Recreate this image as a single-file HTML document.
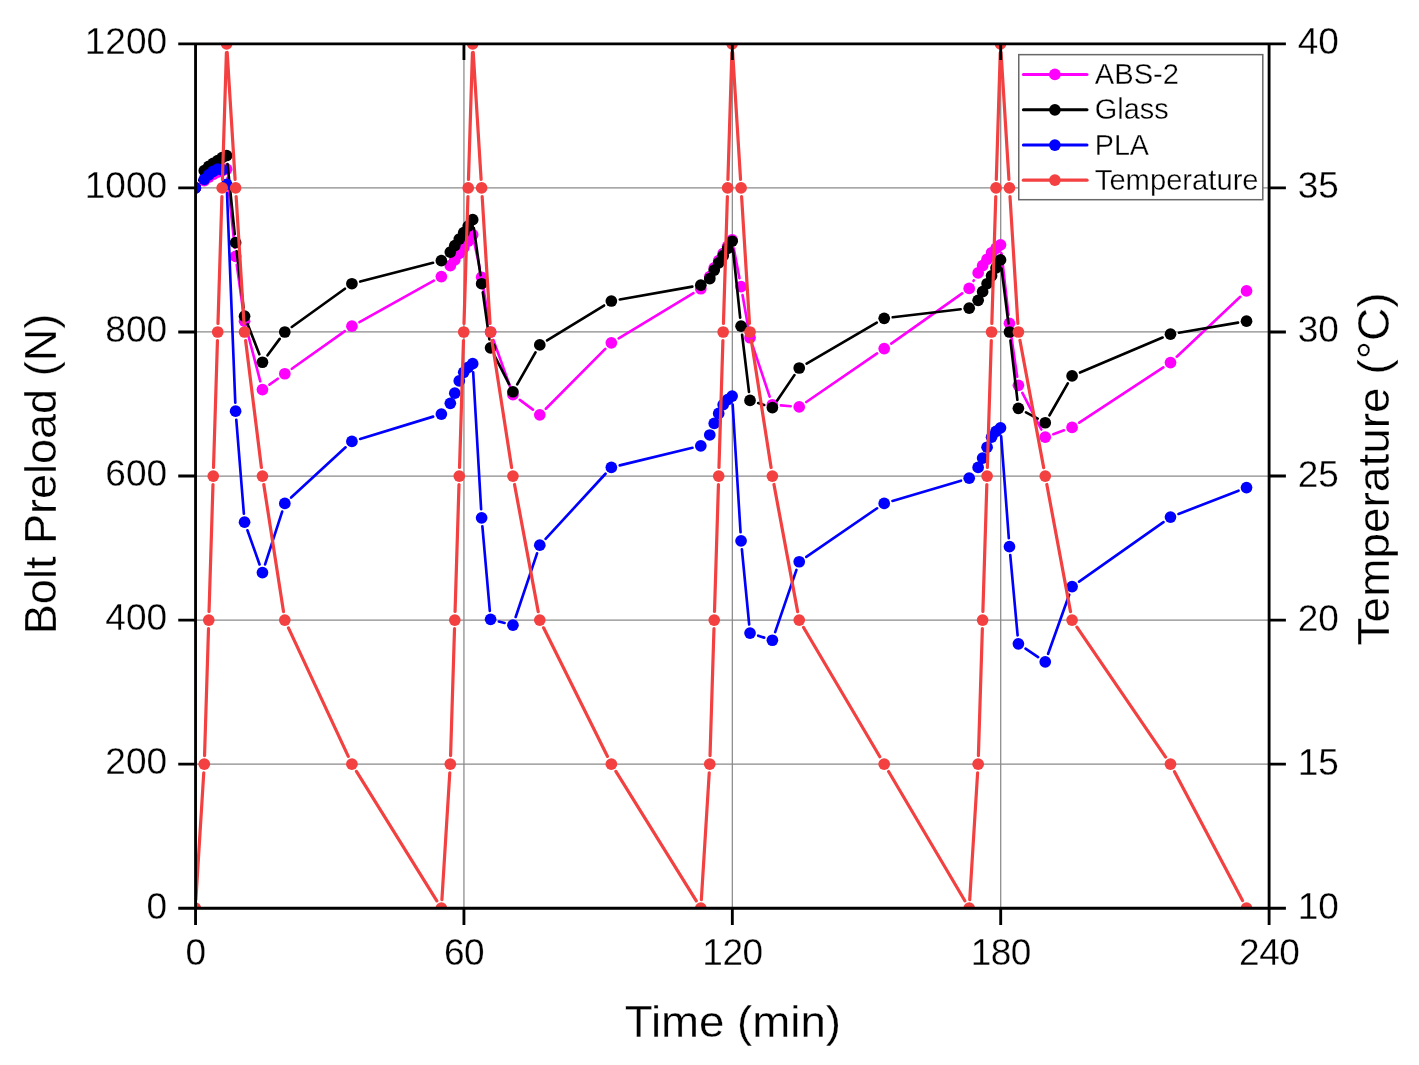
<!DOCTYPE html>
<html><head><meta charset="utf-8"><title>Bolt Preload vs Time</title>
<style>html,body{margin:0;padding:0;background:#fff}svg{display:block}</style></head>
<body>
<svg width="1419" height="1065" viewBox="0 0 1419 1065" font-family="'Liberation Sans', sans-serif" fill="#000">
<style>text{stroke:#fff;stroke-width:0.3px}</style>
<rect width="1419" height="1065" fill="#fff"/>
<defs><clipPath id="c"><rect x="195.55" y="43.88" width="1073.55" height="864.32"/></clipPath></defs>
<path d="M195.55 764.15H1269.10M195.55 620.09H1269.10M195.55 476.04H1269.10M195.55 331.99H1269.10M195.55 187.93H1269.10M463.94 43.88V908.20M732.33 43.88V908.20M1000.71 43.88V908.20" stroke="#8a8a8a" stroke-width="1.25" fill="none"/>
<g clip-path="url(#c)">
<path d="M227.54 177.76L234.73 247.80M236.78 264.88L243.38 312.66M246.73 329.50L260.27 381.29M269.46 384.64L277.80 378.73M291.83 368.79L344.89 331.20M359.43 322.05L433.85 280.70M474.46 243.17L479.86 268.83M483.02 285.73L489.19 323.50M493.47 340.09L510.05 386.55M519.82 399.82L532.91 409.65M545.84 408.72L605.29 348.89M618.71 338.35L693.45 293.22M733.74 248.24L739.46 278.16M742.55 295.08L748.54 329.28M752.74 345.91L769.66 396.58M780.96 405.42L790.65 406.20M806.31 402.03L877.12 353.42M891.23 343.59L962.18 293.38M973.50 280.96L973.84 280.37M1001.49 253.38L1008.49 314.80M1010.69 331.86L1017.18 376.77M1022.36 392.92L1041.29 429.51M1053.33 434.22L1064.00 430.35M1079.26 422.69L1163.31 367.33M1176.75 356.70L1240.28 296.83" fill="none" stroke="#ff00ff" stroke-width="2.65" stroke-linecap="round"/>
<circle cx="195.35" cy="187.93" r="5.85" fill="#ff00ff"/>
<circle cx="204.30" cy="180.73" r="5.85" fill="#ff00ff"/>
<circle cx="208.77" cy="177.13" r="5.85" fill="#ff00ff"/>
<circle cx="213.24" cy="174.25" r="5.85" fill="#ff00ff"/>
<circle cx="217.72" cy="172.09" r="5.85" fill="#ff00ff"/>
<circle cx="222.19" cy="170.65" r="5.85" fill="#ff00ff"/>
<circle cx="226.66" cy="169.21" r="5.85" fill="#ff00ff"/>
<circle cx="235.61" cy="256.36" r="5.85" fill="#ff00ff"/>
<circle cx="244.55" cy="321.18" r="5.85" fill="#ff00ff"/>
<circle cx="262.45" cy="389.61" r="5.85" fill="#ff00ff"/>
<circle cx="284.81" cy="373.76" r="5.85" fill="#ff00ff"/>
<circle cx="351.91" cy="326.22" r="5.85" fill="#ff00ff"/>
<circle cx="441.37" cy="276.53" r="5.85" fill="#ff00ff"/>
<circle cx="450.32" cy="265.72" r="5.85" fill="#ff00ff"/>
<circle cx="454.79" cy="259.96" r="5.85" fill="#ff00ff"/>
<circle cx="459.26" cy="253.48" r="5.85" fill="#ff00ff"/>
<circle cx="463.74" cy="247.72" r="5.85" fill="#ff00ff"/>
<circle cx="468.21" cy="241.23" r="5.85" fill="#ff00ff"/>
<circle cx="472.68" cy="234.75" r="5.85" fill="#ff00ff"/>
<circle cx="481.63" cy="277.25" r="5.85" fill="#ff00ff"/>
<circle cx="490.58" cy="331.99" r="5.85" fill="#ff00ff"/>
<circle cx="512.94" cy="394.65" r="5.85" fill="#ff00ff"/>
<circle cx="539.78" cy="414.82" r="5.85" fill="#ff00ff"/>
<circle cx="611.35" cy="342.79" r="5.85" fill="#ff00ff"/>
<circle cx="700.81" cy="288.77" r="5.85" fill="#ff00ff"/>
<circle cx="709.76" cy="276.53" r="5.85" fill="#ff00ff"/>
<circle cx="714.23" cy="267.88" r="5.85" fill="#ff00ff"/>
<circle cx="718.71" cy="260.68" r="5.85" fill="#ff00ff"/>
<circle cx="723.18" cy="253.48" r="5.85" fill="#ff00ff"/>
<circle cx="727.65" cy="246.27" r="5.85" fill="#ff00ff"/>
<circle cx="732.12" cy="239.79" r="5.85" fill="#ff00ff"/>
<circle cx="741.07" cy="286.61" r="5.85" fill="#ff00ff"/>
<circle cx="750.02" cy="337.75" r="5.85" fill="#ff00ff"/>
<circle cx="772.38" cy="404.73" r="5.85" fill="#ff00ff"/>
<circle cx="799.22" cy="406.89" r="5.85" fill="#ff00ff"/>
<circle cx="884.21" cy="348.55" r="5.85" fill="#ff00ff"/>
<circle cx="969.20" cy="288.41" r="5.85" fill="#ff00ff"/>
<circle cx="978.15" cy="272.92" r="5.85" fill="#ff00ff"/>
<circle cx="982.62" cy="265.72" r="5.85" fill="#ff00ff"/>
<circle cx="987.09" cy="259.24" r="5.85" fill="#ff00ff"/>
<circle cx="991.57" cy="252.76" r="5.85" fill="#ff00ff"/>
<circle cx="996.04" cy="248.44" r="5.85" fill="#ff00ff"/>
<circle cx="1000.51" cy="244.83" r="5.85" fill="#ff00ff"/>
<circle cx="1009.46" cy="323.34" r="5.85" fill="#ff00ff"/>
<circle cx="1018.40" cy="385.29" r="5.85" fill="#ff00ff"/>
<circle cx="1045.24" cy="437.15" r="5.85" fill="#ff00ff"/>
<circle cx="1072.08" cy="427.42" r="5.85" fill="#ff00ff"/>
<circle cx="1170.49" cy="362.60" r="5.85" fill="#ff00ff"/>
<circle cx="1246.53" cy="290.93" r="5.85" fill="#ff00ff"/>
<path d="M199.30 180.30L200.34 178.28M227.54 164.08L234.73 234.12M236.65 251.21L243.51 307.60M247.67 324.16L259.33 354.22M267.56 355.32L279.70 338.90M291.79 326.97L344.93 288.75M360.24 281.58L433.04 262.83M473.87 228.14L480.44 275.21M482.82 292.25L489.39 339.32M494.48 355.50L509.04 384.10M517.22 384.31L535.50 352.41M547.11 340.45L604.02 305.51M619.82 299.52L692.34 286.67M733.03 249.79L740.17 317.67M742.10 334.76L748.99 391.87M758.20 403.05L764.20 404.98M777.21 400.49L794.40 375.12M806.65 363.66L876.79 322.64M892.75 317.29L960.66 309.23M1001.57 268.49L1008.40 323.45M1010.46 340.53L1017.40 399.79M1025.98 412.40L1037.67 418.67M1049.52 415.28L1067.81 383.38M1080.00 372.56L1162.58 337.51M1178.97 332.70L1238.06 322.63" fill="none" stroke="#000000" stroke-width="2.65" stroke-linecap="round"/>
<circle cx="195.35" cy="187.93" r="5.85" fill="#000000"/>
<circle cx="204.30" cy="170.65" r="5.85" fill="#000000"/>
<circle cx="208.77" cy="166.33" r="5.85" fill="#000000"/>
<circle cx="213.24" cy="163.44" r="5.85" fill="#000000"/>
<circle cx="217.72" cy="160.56" r="5.85" fill="#000000"/>
<circle cx="222.19" cy="157.68" r="5.85" fill="#000000"/>
<circle cx="226.66" cy="155.52" r="5.85" fill="#000000"/>
<circle cx="235.61" cy="242.67" r="5.85" fill="#000000"/>
<circle cx="244.55" cy="316.14" r="5.85" fill="#000000"/>
<circle cx="262.45" cy="362.24" r="5.85" fill="#000000"/>
<circle cx="284.81" cy="331.99" r="5.85" fill="#000000"/>
<circle cx="351.91" cy="283.73" r="5.85" fill="#000000"/>
<circle cx="441.37" cy="260.68" r="5.85" fill="#000000"/>
<circle cx="450.32" cy="252.04" r="5.85" fill="#000000"/>
<circle cx="454.79" cy="245.55" r="5.85" fill="#000000"/>
<circle cx="459.26" cy="239.07" r="5.85" fill="#000000"/>
<circle cx="463.74" cy="232.59" r="5.85" fill="#000000"/>
<circle cx="468.21" cy="226.11" r="5.85" fill="#000000"/>
<circle cx="472.68" cy="219.63" r="5.85" fill="#000000"/>
<circle cx="481.63" cy="283.73" r="5.85" fill="#000000"/>
<circle cx="490.58" cy="347.83" r="5.85" fill="#000000"/>
<circle cx="512.94" cy="391.77" r="5.85" fill="#000000"/>
<circle cx="539.78" cy="344.95" r="5.85" fill="#000000"/>
<circle cx="611.35" cy="301.02" r="5.85" fill="#000000"/>
<circle cx="700.81" cy="285.17" r="5.85" fill="#000000"/>
<circle cx="709.76" cy="278.69" r="5.85" fill="#000000"/>
<circle cx="714.23" cy="270.04" r="5.85" fill="#000000"/>
<circle cx="718.71" cy="262.84" r="5.85" fill="#000000"/>
<circle cx="723.18" cy="255.64" r="5.85" fill="#000000"/>
<circle cx="727.65" cy="248.44" r="5.85" fill="#000000"/>
<circle cx="732.12" cy="241.23" r="5.85" fill="#000000"/>
<circle cx="741.07" cy="326.22" r="5.85" fill="#000000"/>
<circle cx="750.02" cy="400.41" r="5.85" fill="#000000"/>
<circle cx="772.38" cy="407.61" r="5.85" fill="#000000"/>
<circle cx="799.22" cy="368.00" r="5.85" fill="#000000"/>
<circle cx="884.21" cy="318.30" r="5.85" fill="#000000"/>
<circle cx="969.20" cy="308.22" r="5.85" fill="#000000"/>
<circle cx="978.15" cy="300.29" r="5.85" fill="#000000"/>
<circle cx="982.62" cy="291.65" r="5.85" fill="#000000"/>
<circle cx="987.09" cy="283.73" r="5.85" fill="#000000"/>
<circle cx="991.57" cy="275.81" r="5.85" fill="#000000"/>
<circle cx="996.04" cy="267.88" r="5.85" fill="#000000"/>
<circle cx="1000.51" cy="259.96" r="5.85" fill="#000000"/>
<circle cx="1009.46" cy="331.99" r="5.85" fill="#000000"/>
<circle cx="1018.40" cy="408.33" r="5.85" fill="#000000"/>
<circle cx="1045.24" cy="422.74" r="5.85" fill="#000000"/>
<circle cx="1072.08" cy="375.92" r="5.85" fill="#000000"/>
<circle cx="1170.49" cy="334.15" r="5.85" fill="#000000"/>
<circle cx="1246.53" cy="321.18" r="5.85" fill="#000000"/>
<path d="M227.00 192.93L235.27 402.62M236.30 419.79L243.86 513.56M247.43 530.24L259.57 564.45M265.09 564.37L282.17 511.59M291.13 497.58L345.59 447.30M360.13 438.95L433.15 416.61M473.18 372.26L481.13 509.23M482.38 526.38L489.82 610.81M498.90 621.52L504.61 622.99M515.68 616.98L537.04 553.34M545.60 538.86L605.53 473.73M619.71 465.38L692.45 447.81M732.66 404.67L740.54 532.28M741.90 549.42L749.19 624.50M758.20 635.69L764.20 637.62M775.17 632.12L796.44 569.89M806.31 556.88L877.12 508.28M892.46 500.96L960.96 480.65M1001.16 436.36L1008.81 538.05M1010.25 555.19L1017.62 635.30M1025.55 648.65L1038.10 657.08M1048.13 653.77L1069.19 594.70M1079.11 581.64L1163.47 522.06M1178.51 513.98L1238.52 490.68" fill="none" stroke="#0000ff" stroke-width="2.65" stroke-linecap="round"/>
<circle cx="195.35" cy="187.93" r="5.85" fill="#0000ff"/>
<circle cx="204.30" cy="179.29" r="5.85" fill="#0000ff"/>
<circle cx="208.77" cy="174.97" r="5.85" fill="#0000ff"/>
<circle cx="213.24" cy="171.37" r="5.85" fill="#0000ff"/>
<circle cx="217.72" cy="169.21" r="5.85" fill="#0000ff"/>
<circle cx="222.19" cy="169.93" r="5.85" fill="#0000ff"/>
<circle cx="226.66" cy="184.33" r="5.85" fill="#0000ff"/>
<circle cx="235.61" cy="411.22" r="5.85" fill="#0000ff"/>
<circle cx="244.55" cy="522.14" r="5.85" fill="#0000ff"/>
<circle cx="262.45" cy="572.56" r="5.85" fill="#0000ff"/>
<circle cx="284.81" cy="503.41" r="5.85" fill="#0000ff"/>
<circle cx="351.91" cy="441.47" r="5.85" fill="#0000ff"/>
<circle cx="441.37" cy="414.10" r="5.85" fill="#0000ff"/>
<circle cx="450.32" cy="403.29" r="5.85" fill="#0000ff"/>
<circle cx="454.79" cy="393.21" r="5.85" fill="#0000ff"/>
<circle cx="459.26" cy="380.96" r="5.85" fill="#0000ff"/>
<circle cx="463.74" cy="372.32" r="5.85" fill="#0000ff"/>
<circle cx="468.21" cy="367.28" r="5.85" fill="#0000ff"/>
<circle cx="472.68" cy="363.68" r="5.85" fill="#0000ff"/>
<circle cx="481.63" cy="517.82" r="5.85" fill="#0000ff"/>
<circle cx="490.58" cy="619.37" r="5.85" fill="#0000ff"/>
<circle cx="512.94" cy="625.14" r="5.85" fill="#0000ff"/>
<circle cx="539.78" cy="545.19" r="5.85" fill="#0000ff"/>
<circle cx="611.35" cy="467.40" r="5.85" fill="#0000ff"/>
<circle cx="700.81" cy="445.79" r="5.85" fill="#0000ff"/>
<circle cx="709.76" cy="434.98" r="5.85" fill="#0000ff"/>
<circle cx="714.23" cy="423.46" r="5.85" fill="#0000ff"/>
<circle cx="718.71" cy="413.38" r="5.85" fill="#0000ff"/>
<circle cx="723.18" cy="404.73" r="5.85" fill="#0000ff"/>
<circle cx="727.65" cy="399.69" r="5.85" fill="#0000ff"/>
<circle cx="732.12" cy="396.09" r="5.85" fill="#0000ff"/>
<circle cx="741.07" cy="540.86" r="5.85" fill="#0000ff"/>
<circle cx="750.02" cy="633.06" r="5.85" fill="#0000ff"/>
<circle cx="772.38" cy="640.26" r="5.85" fill="#0000ff"/>
<circle cx="799.22" cy="561.75" r="5.85" fill="#0000ff"/>
<circle cx="884.21" cy="503.41" r="5.85" fill="#0000ff"/>
<circle cx="969.20" cy="478.20" r="5.85" fill="#0000ff"/>
<circle cx="978.15" cy="467.40" r="5.85" fill="#0000ff"/>
<circle cx="982.62" cy="458.03" r="5.85" fill="#0000ff"/>
<circle cx="987.09" cy="447.23" r="5.85" fill="#0000ff"/>
<circle cx="991.57" cy="437.15" r="5.85" fill="#0000ff"/>
<circle cx="996.04" cy="431.38" r="5.85" fill="#0000ff"/>
<circle cx="1000.51" cy="427.78" r="5.85" fill="#0000ff"/>
<circle cx="1009.46" cy="546.63" r="5.85" fill="#0000ff"/>
<circle cx="1018.40" cy="643.86" r="5.85" fill="#0000ff"/>
<circle cx="1045.24" cy="661.87" r="5.85" fill="#0000ff"/>
<circle cx="1072.08" cy="586.60" r="5.85" fill="#0000ff"/>
<circle cx="1170.49" cy="517.10" r="5.85" fill="#0000ff"/>
<circle cx="1246.53" cy="487.56" r="5.85" fill="#0000ff"/>
<path d="M195.88 899.62L203.76 772.73M204.56 755.55L208.50 628.69M209.04 611.50L212.98 484.64M213.51 467.44L217.45 340.58M217.98 323.39L221.92 196.53M222.46 179.34L226.39 52.48M227.19 52.46L235.08 179.35M236.14 196.52L244.02 323.40M245.61 340.52L261.39 467.51M263.77 484.54L283.49 611.60M288.44 627.89L348.28 756.35M356.45 771.45L436.83 900.89M441.90 899.62L449.79 772.73M450.59 755.55L454.52 628.69M455.06 611.50L459.00 484.64M459.53 467.44L463.47 340.58M464.00 323.39L467.94 196.53M468.48 179.34L472.42 52.48M473.22 52.46L481.10 179.35M482.16 196.52L490.04 323.40M491.90 340.48L511.62 467.54M514.52 484.49L538.21 611.64M543.61 627.80L607.52 756.44M615.89 771.45L696.28 900.89M701.35 899.62L709.23 772.73M710.03 755.55L713.97 628.69M714.50 611.50L718.44 484.64M718.97 467.44L722.91 340.58M723.45 323.39L727.38 196.53M727.92 179.34L731.86 52.48M732.66 52.46L740.54 179.35M741.60 196.52L749.48 323.40M751.34 340.48L771.06 467.54M773.96 484.49L797.65 611.64M803.59 627.50L879.84 756.74M888.58 771.55L964.83 900.79M969.73 899.62L977.61 772.73M978.41 755.55L982.35 628.69M982.89 611.50L986.83 484.64M987.36 467.44L991.30 340.58M991.83 323.39L995.77 196.53M996.31 179.34L1000.25 52.48M1001.05 52.46L1008.93 179.35M1009.99 196.52L1017.87 323.40M1019.98 340.44L1043.67 467.59M1046.82 484.49L1070.51 611.64M1076.93 627.19L1165.64 757.05M1174.51 771.75L1242.52 900.59" fill="none" stroke="#f34040" stroke-width="3.2" stroke-linecap="round"/>
<circle cx="195.35" cy="908.20" r="5.85" fill="#f34040"/>
<circle cx="204.30" cy="764.15" r="5.85" fill="#f34040"/>
<circle cx="208.77" cy="620.09" r="5.85" fill="#f34040"/>
<circle cx="213.24" cy="476.04" r="5.85" fill="#f34040"/>
<circle cx="217.72" cy="331.99" r="5.85" fill="#f34040"/>
<circle cx="222.19" cy="187.93" r="5.85" fill="#f34040"/>
<circle cx="226.66" cy="43.88" r="5.85" fill="#f34040"/>
<circle cx="235.61" cy="187.93" r="5.85" fill="#f34040"/>
<circle cx="244.55" cy="331.99" r="5.85" fill="#f34040"/>
<circle cx="262.45" cy="476.04" r="5.85" fill="#f34040"/>
<circle cx="284.81" cy="620.09" r="5.85" fill="#f34040"/>
<circle cx="351.91" cy="764.15" r="5.85" fill="#f34040"/>
<circle cx="441.37" cy="908.20" r="5.85" fill="#f34040"/>
<circle cx="450.32" cy="764.15" r="5.85" fill="#f34040"/>
<circle cx="454.79" cy="620.09" r="5.85" fill="#f34040"/>
<circle cx="459.26" cy="476.04" r="5.85" fill="#f34040"/>
<circle cx="463.74" cy="331.99" r="5.85" fill="#f34040"/>
<circle cx="468.21" cy="187.93" r="5.85" fill="#f34040"/>
<circle cx="472.68" cy="43.88" r="5.85" fill="#f34040"/>
<circle cx="481.63" cy="187.93" r="5.85" fill="#f34040"/>
<circle cx="490.58" cy="331.99" r="5.85" fill="#f34040"/>
<circle cx="512.94" cy="476.04" r="5.85" fill="#f34040"/>
<circle cx="539.78" cy="620.09" r="5.85" fill="#f34040"/>
<circle cx="611.35" cy="764.15" r="5.85" fill="#f34040"/>
<circle cx="700.81" cy="908.20" r="5.85" fill="#f34040"/>
<circle cx="709.76" cy="764.15" r="5.85" fill="#f34040"/>
<circle cx="714.23" cy="620.09" r="5.85" fill="#f34040"/>
<circle cx="718.71" cy="476.04" r="5.85" fill="#f34040"/>
<circle cx="723.18" cy="331.99" r="5.85" fill="#f34040"/>
<circle cx="727.65" cy="187.93" r="5.85" fill="#f34040"/>
<circle cx="732.12" cy="43.88" r="5.85" fill="#f34040"/>
<circle cx="741.07" cy="187.93" r="5.85" fill="#f34040"/>
<circle cx="750.02" cy="331.99" r="5.85" fill="#f34040"/>
<circle cx="772.38" cy="476.04" r="5.85" fill="#f34040"/>
<circle cx="799.22" cy="620.09" r="5.85" fill="#f34040"/>
<circle cx="884.21" cy="764.15" r="5.85" fill="#f34040"/>
<circle cx="969.20" cy="908.20" r="5.85" fill="#f34040"/>
<circle cx="978.15" cy="764.15" r="5.85" fill="#f34040"/>
<circle cx="982.62" cy="620.09" r="5.85" fill="#f34040"/>
<circle cx="987.09" cy="476.04" r="5.85" fill="#f34040"/>
<circle cx="991.57" cy="331.99" r="5.85" fill="#f34040"/>
<circle cx="996.04" cy="187.93" r="5.85" fill="#f34040"/>
<circle cx="1000.51" cy="43.88" r="5.85" fill="#f34040"/>
<circle cx="1009.46" cy="187.93" r="5.85" fill="#f34040"/>
<circle cx="1018.40" cy="331.99" r="5.85" fill="#f34040"/>
<circle cx="1045.24" cy="476.04" r="5.85" fill="#f34040"/>
<circle cx="1072.08" cy="620.09" r="5.85" fill="#f34040"/>
<circle cx="1170.49" cy="764.15" r="5.85" fill="#f34040"/>
<circle cx="1246.53" cy="908.20" r="5.85" fill="#f34040"/>
</g>
<path d="M178.25 43.88H1285.90M178.25 908.20H1285.90M195.55 42.46V925.00M1269.10 42.46V925.00M178.25 764.15H195.55M1269.10 764.15H1285.90M178.25 620.09H195.55M1269.10 620.09H1285.90M178.25 476.04H195.55M1269.10 476.04H1285.90M178.25 331.99H195.55M1269.10 331.99H1285.90M178.25 187.93H195.55M1269.10 187.93H1285.90M463.94 908.20V925.00M463.94 43.88V59.88M732.33 908.20V925.00M732.33 43.88V59.88M1000.71 908.20V925.00M1000.71 43.88V59.88" stroke="#000" stroke-width="2.85" fill="none"/>
<text x="167.1" y="918.50" font-size="37" text-anchor="end">0</text>
<text x="167.1" y="774.45" font-size="37" text-anchor="end">200</text>
<text x="167.1" y="630.39" font-size="37" text-anchor="end">400</text>
<text x="167.1" y="486.34" font-size="37" text-anchor="end">600</text>
<text x="167.1" y="342.29" font-size="37" text-anchor="end">800</text>
<text x="167.1" y="198.23" font-size="37" text-anchor="end">1000</text>
<text x="167.1" y="54.18" font-size="37" text-anchor="end">1200</text>
<text x="1297.7" y="918.70" font-size="37">10</text>
<text x="1297.7" y="774.65" font-size="37">15</text>
<text x="1297.7" y="630.59" font-size="37">20</text>
<text x="1297.7" y="486.54" font-size="37">25</text>
<text x="1297.7" y="342.49" font-size="37">30</text>
<text x="1297.7" y="198.43" font-size="37">35</text>
<text x="1297.7" y="54.38" font-size="37">40</text>
<text x="195.65" y="964.9" font-size="37" text-anchor="middle" letter-spacing="-0.5">0</text>
<text x="464.04" y="964.9" font-size="37" text-anchor="middle" letter-spacing="-0.5">60</text>
<text x="732.43" y="964.9" font-size="37" text-anchor="middle" letter-spacing="-0.5">120</text>
<text x="1000.81" y="964.9" font-size="37" text-anchor="middle" letter-spacing="-0.5">180</text>
<text x="1269.20" y="964.9" font-size="37" text-anchor="middle" letter-spacing="-0.5">240</text>
<text x="732.85" y="1037" font-size="44.6" text-anchor="middle" textLength="216.2" lengthAdjust="spacingAndGlyphs">Time (min)</text>
<text transform="translate(56 474) rotate(-90)" font-size="44.6" text-anchor="middle" textLength="320.4" lengthAdjust="spacingAndGlyphs">Bolt Preload (N)</text>
<text transform="translate(1388.6 468.9) rotate(-90)" font-size="44.6" text-anchor="middle" textLength="353.0" lengthAdjust="spacingAndGlyphs">Temperature (°C)</text>
<rect x="1018.75" y="54.65" width="244.05" height="145.05" fill="#fff" stroke="#686868" stroke-width="1.5"/>
<path d="M1023.4 74.4H1087.0" stroke="#ff00ff" stroke-width="3.0" stroke-linecap="round"/>
<circle cx="1054.9" cy="74.4" r="5.85" fill="#ff00ff"/>
<text x="1094.8" y="83.9" font-size="28.8" textLength="84.2" lengthAdjust="spacingAndGlyphs">ABS-2</text>
<path d="M1023.4 109.8H1087.0" stroke="#000" stroke-width="3.0" stroke-linecap="round"/>
<circle cx="1054.9" cy="109.8" r="5.85" fill="#000"/>
<text x="1094.8" y="119.3" font-size="28.8" textLength="73.9" lengthAdjust="spacingAndGlyphs">Glass</text>
<path d="M1023.4 145.1H1087.0" stroke="#0000ff" stroke-width="3.0" stroke-linecap="round"/>
<circle cx="1054.9" cy="145.1" r="5.85" fill="#0000ff"/>
<text x="1094.8" y="154.6" font-size="28.8" textLength="54.2" lengthAdjust="spacingAndGlyphs">PLA</text>
<path d="M1023.4 180.2H1087.0" stroke="#f34040" stroke-width="3.3" stroke-linecap="round"/>
<circle cx="1054.9" cy="180.2" r="5.85" fill="#f34040"/>
<text x="1094.8" y="189.7" font-size="28.8" textLength="163.8" lengthAdjust="spacingAndGlyphs">Temperature</text>
</svg>
</body></html>
